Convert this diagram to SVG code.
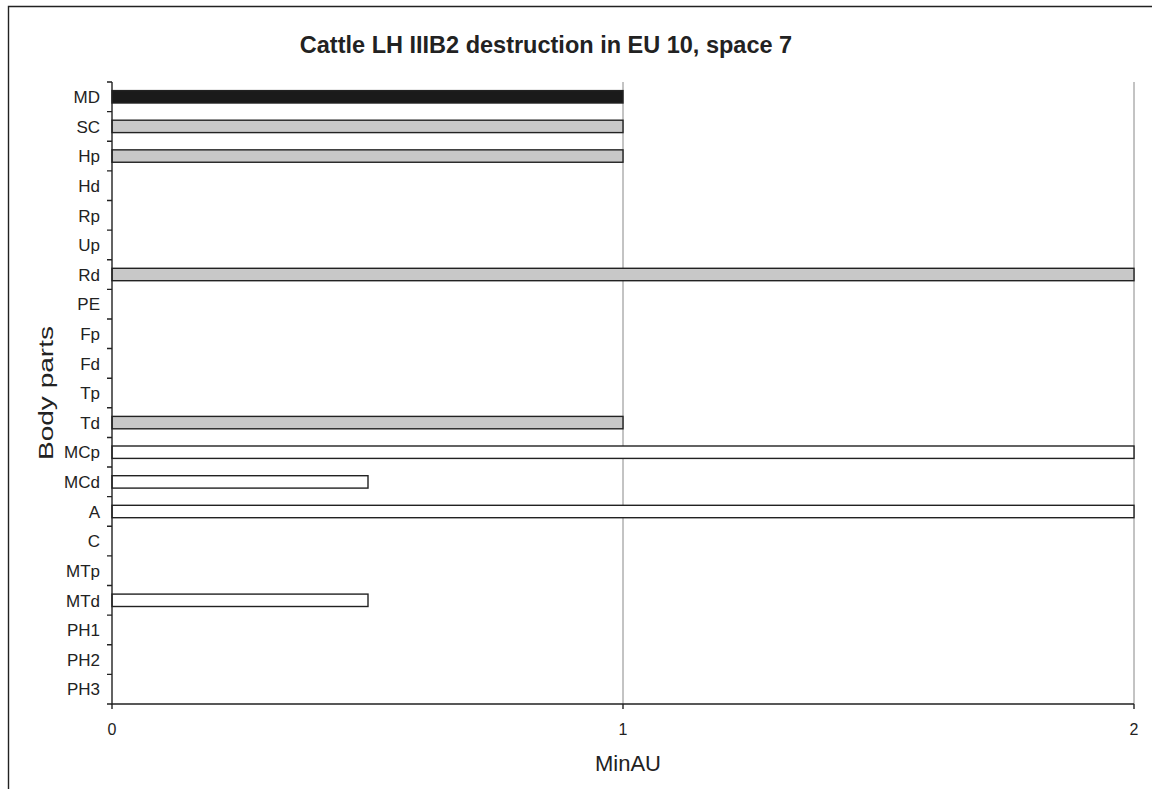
<svg xmlns="http://www.w3.org/2000/svg" width="1152" height="789" viewBox="0 0 1152 789">
<style>
text{font-family:"Liberation Sans",Arial,sans-serif;fill:#222}
.cat{font-size:17px;text-anchor:end}
.tick{font-size:16px;text-anchor:middle}
.bar{stroke:#222;stroke-width:1.4}
.grid{stroke:#888;stroke-width:1}
.axis{stroke:#222;stroke-width:1.4;fill:none}
</style>
<rect x="0" y="0" width="1152" height="789" fill="#fff"/>
<path d="M8.5 789V6.5H1152" fill="none" stroke="#222" stroke-width="1.4"/>
<text x="546" y="53" font-size="23.5" font-weight="bold" text-anchor="middle">Cattle LH IIIB2 destruction in EU 10, space 7</text>
<g id="grid">
<line class="grid" x1="623" y1="82" x2="623" y2="704"/>
<line class="grid" x1="1134" y1="82" x2="1134" y2="704"/>
</g>
<g id="bars">
<rect id="bar-MD" class="bar" x="112" y="90.6" width="511" height="12.4" fill="#1a1a1a"/>
<rect id="bar-SC" class="bar" x="112" y="120.2" width="511" height="12.4" fill="#c8c8c8"/>
<rect id="bar-Hp" class="bar" x="112" y="149.85" width="511" height="12.4" fill="#c8c8c8"/>
<rect id="bar-Rd" class="bar" x="112" y="268.3" width="1022" height="12.4" fill="#c8c8c8"/>
<rect id="bar-Td" class="bar" x="112" y="416.4" width="511" height="12.4" fill="#c8c8c8"/>
<rect id="bar-MCp" class="bar" x="112" y="446" width="1022" height="12.4" fill="#fff"/>
<rect id="bar-MCd" class="bar" x="112" y="475.7" width="256" height="12.4" fill="#fff"/>
<rect id="bar-A" class="bar" x="112" y="505.3" width="1022" height="12.4" fill="#fff"/>
<rect id="bar-MTd" class="bar" x="112" y="594.1" width="256" height="12.4" fill="#fff"/>
</g>
<g id="axes">
<path class="axis" d="M112 82V704H1134"/>
<path class="axis" d="M107 82H112M107 111.62H112M107 141.24H112M107 170.86H112M107 200.48H112M107 230.1H112M107 259.71H112M107 289.33H112M107 318.95H112M107 348.57H112M107 378.19H112M107 407.81H112M107 437.43H112M107 467.05H112M107 496.67H112M107 526.29H112M107 555.9H112M107 585.52H112M107 615.14H112M107 644.76H112M107 674.38H112M107 704H112"/>
<path class="axis" d="M112 704V709M623 704V709M1134 704V709"/>
</g>
<g id="labels">
<text class="cat" x="100" y="103">MD</text>
<text class="cat" x="100" y="132.6">SC</text>
<text class="cat" x="100" y="162.3">Hp</text>
<text class="cat" x="100" y="191.9">Hd</text>
<text class="cat" x="100" y="221.5">Rp</text>
<text class="cat" x="100" y="251.1">Up</text>
<text class="cat" x="100" y="280.7">Rd</text>
<text class="cat" x="100" y="310.3">PE</text>
<text class="cat" x="100" y="340">Fp</text>
<text class="cat" x="100" y="369.6">Fd</text>
<text class="cat" x="100" y="399.2">Tp</text>
<text class="cat" x="100" y="428.8">Td</text>
<text class="cat" x="100" y="458.4">MCp</text>
<text class="cat" x="100" y="488.1">MCd</text>
<text class="cat" x="100" y="517.7">A</text>
<text class="cat" x="100" y="547.3">C</text>
<text class="cat" x="100" y="576.9">MTp</text>
<text class="cat" x="100" y="606.5">MTd</text>
<text class="cat" x="100" y="636.2">PH1</text>
<text class="cat" x="100" y="665.8">PH2</text>
<text class="cat" x="100" y="695.4">PH3</text>
<text class="tick" x="112" y="735">0</text>
<text class="tick" x="623" y="735">1</text>
<text class="tick" x="1134" y="735">2</text>
<text x="628" y="771" font-size="22" text-anchor="middle">MinAU</text>
<text x="0" y="0" font-size="21" text-anchor="middle" textLength="134" lengthAdjust="spacingAndGlyphs" transform="translate(53 393) rotate(-90)">Body parts</text>
</g>
</svg>
